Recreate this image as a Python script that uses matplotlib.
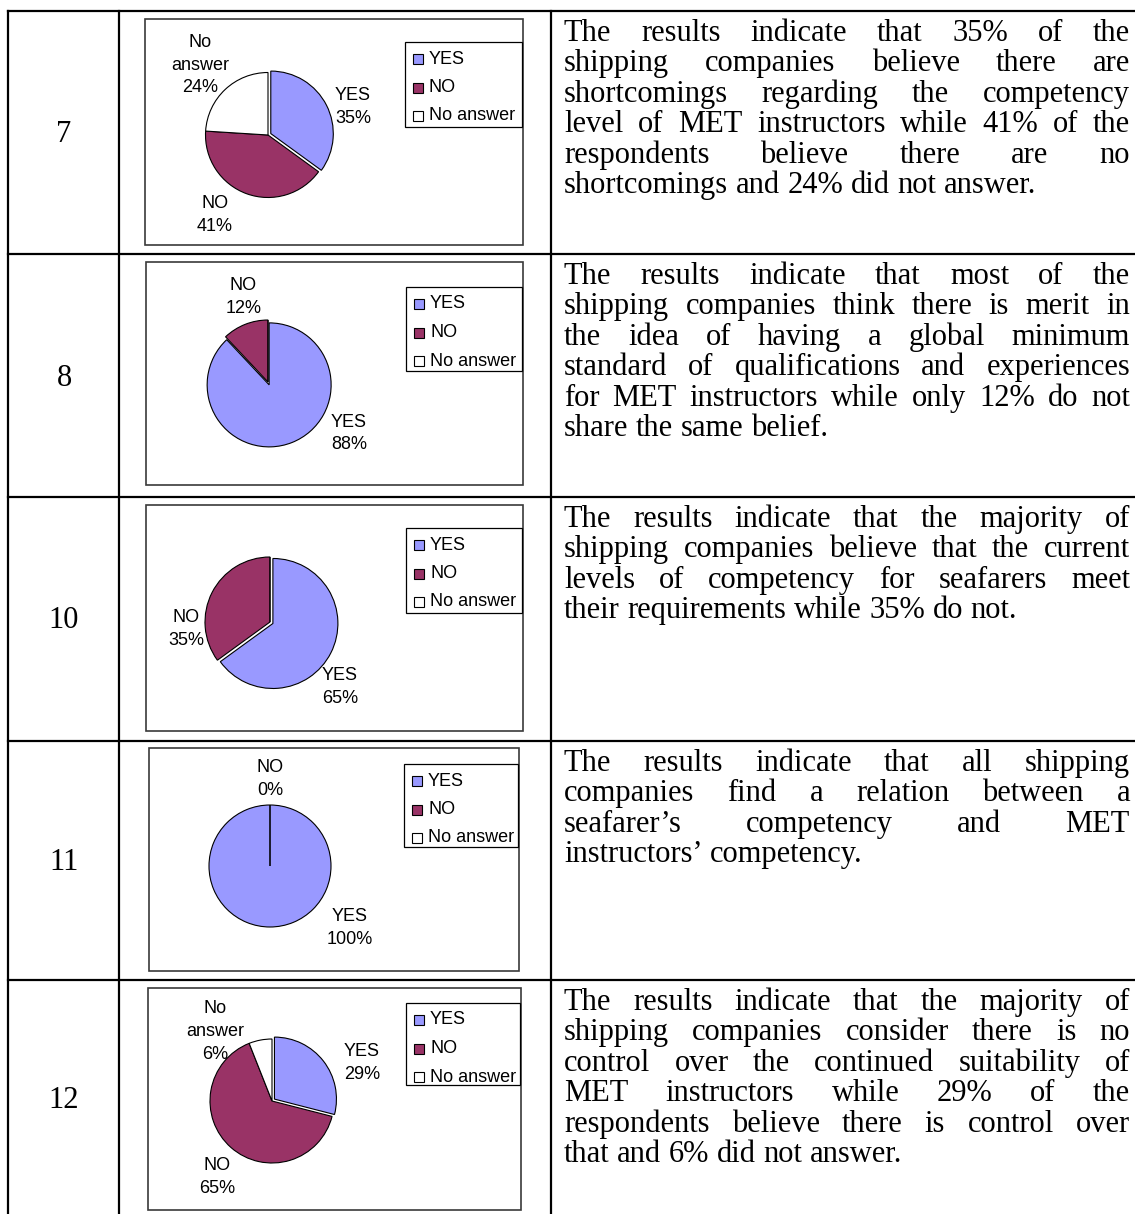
import matplotlib
matplotlib.use('Agg')
import matplotlib.pyplot as plt
from matplotlib.patches import Rectangle
import numpy as np

# ---------------- data ----------------
categories = ['YES', 'NO', 'No answer']
question_ids = ['7', '8', '10', '11', '12']
yes_pct = [35, 88, 65, 100, 29]
no_pct = [41, 12, 35, 0, 65]
noans_pct = [24, 0, 0, 0, 6]
# which slice labels appear on each chart (YES, NO, No answer)
label_shown = [[True, True, True],
               [True, True, False],
               [True, True, False],
               [True, True, False],
               [True, True, True]]

descriptions = [
    ["The results indicate that 35% of the",
     "shipping companies believe there are",
     "shortcomings regarding the competency",
     "level of MET instructors while 41% of the",
     "respondents believe there are no",
     "shortcomings and 24% did not answer."],
    ["The results indicate that most of the",
     "shipping companies think there is merit in",
     "the idea of having a global minimum",
     "standard of qualifications and experiences",
     "for MET instructors while only 12% do not",
     "share the same belief."],
    ["The results indicate that the majority of",
     "shipping companies believe that the current",
     "levels of competency for seafarers meet",
     "their requirements while 35% do not."],
    ["The results indicate that all shipping",
     "companies find a relation between a",
     "seafarer\u2019s competency and MET",
     "instructors\u2019 competency."],
    ["The results indicate that the majority of",
     "shipping companies consider there is no",
     "control over the continued suitability of",
     "MET instructors while 29% of the",
     "respondents believe there is control over",
     "that and 6% did not answer."],
]

# ---------------- style / layout ----------------
W, H, DPI = 1135, 1214, 100
slice_colors = ['#9999FF', '#993366', '#FFFFFF']
row_lines_y = [11, 254, 497, 741, 980]
col_lines_x = [8, 119, 551]
number_y = [135, 378, 620, 862, 1100]
frames = [(145, 19, 523, 245), (146, 262, 523, 485), (146, 505, 523, 731),
          (149, 748, 519, 971), (148, 988, 521, 1210)]
pie_geo = [(268, 135, 62.5), (268, 382, 62), (270, 622, 65),
           (270, 866, 61), (272, 1101, 62)]
legend_boxes = [(405, 42, 522, 127), (406, 287, 522, 371), (406, 528, 522, 613),
                (404, 764, 518, 847), (406, 1003, 520, 1085)]
# label placement: (angle clockwise from top in degrees, distance in radii)
label_place = [
    [(71.7, 1.43), (213.6, 1.54), (315.8, 1.56)],
    [(122.4, 1.55), (343.8, 1.43), None],
    [(132.8, 1.47), (265.5, 1.29), None],
    [(128, 1.66), (0, 1.42), None],
    [(67.2, 1.57), (216, 1.51), (320.6, 1.45)],
]
para_first_baseline = [y + 30 for y in row_lines_y]
para_spacing = 30.4
text_x0, text_x1 = 564, 1130
serif = ['Liberation Serif', 'DejaVu Serif']
sans = ['Liberation Sans', 'DejaVu Sans']
body_size = 22
label_size = 13

fig = plt.figure(figsize=(W / DPI, H / DPI), dpi=DPI)
bg = fig.add_axes([0, 0, 1, 1])
bg.set_xlim(0, W)
bg.set_ylim(H, 0)
bg.axis('off')

# table grid
lw_grid = 1.6
for y in row_lines_y:
    bg.plot([col_lines_x[0], W + 5], [y, y], color='black', lw=lw_grid,
            solid_capstyle='projecting')
for x in col_lines_x:
    bg.plot([x, x], [row_lines_y[0], H + 5], color='black', lw=lw_grid,
            solid_capstyle='projecting')

# question numbers
for q, y in zip(question_ids, number_y):
    bg.text(64, y, q, ha='center', va='center', fontsize=body_size,
            family=serif)

# justified paragraphs
renderer = fig.canvas.get_renderer()


def text_width(s):
    t = bg.text(0, 0, s, fontsize=body_size, family=serif)
    w = t.get_window_extent(renderer=renderer).width
    t.remove()
    return w


space_w = text_width('a a') - text_width('aa')
for lines, yb in zip(descriptions, para_first_baseline):
    for i, line in enumerate(lines):
        y = yb + i * para_spacing
        words = line.split(' ')
        widths = [text_width(wd) for wd in words]
        last = (i == len(lines) - 1)
        if last or len(words) == 1:
            gap = space_w
        else:
            gap = (text_x1 - text_x0 - sum(widths)) / (len(words) - 1)
        x = text_x0
        for wd, ww in zip(words, widths):
            bg.text(x, y, wd, ha='left', va='baseline', fontsize=body_size,
                    family=serif)
            x += ww + gap

# charts
for k in range(5):
    fx0, fy0, fx1, fy1 = frames[k]
    bg.add_patch(Rectangle((fx0, fy0), fx1 - fx0, fy1 - fy0, fill=False,
                           edgecolor='#3a3a3a', lw=1.2, zorder=2))
    cx, cy, r = pie_geo[k]
    ax = fig.add_axes([fx0 / W, 1 - fy1 / H, (fx1 - fx0) / W, (fy1 - fy0) / H])
    vals = [yes_pct[k], no_pct[k], noans_pct[k]]
    explode = [0.05 if yes_pct[k] < 100 else 0, 0, 0]
    ax.pie(vals, colors=slice_colors, startangle=90, counterclock=False,
           explode=explode, radius=1, center=(0, 0),
           wedgeprops=dict(edgecolor='black', linewidth=0.8))
    ax.set_aspect('auto')
    ax.set_xlim((fx0 - cx) / r, (fx1 - cx) / r)
    ax.set_ylim((cy - fy1) / r, (cy - fy0) / r)
    ax.axis('off')
    for j, cat in enumerate(categories):
        if not label_shown[k][j]:
            continue
        ang, dist = label_place[k][j]
        a = np.deg2rad(ang)
        name = cat if cat != 'No answer' else 'No\nanswer'
        ax.text(dist * np.sin(a), dist * np.cos(a), f"{name}\n{vals[j]}%",
                ha='center', va='center', fontsize=label_size, family=sans,
                linespacing=1.45)
    # legend
    lx0, ly0, lx1, ly1 = legend_boxes[k]
    bg.add_patch(Rectangle((lx0, ly0), lx1 - lx0, ly1 - ly0, fill=True,
                           facecolor='white', edgecolor='black', lw=0.9,
                           zorder=3))
    for j, cat in enumerate(categories):
        ey = ly0 + 17 + j * 28.5
        bg.add_patch(Rectangle((lx0 + 8, ey - 5), 10, 10,
                               facecolor=slice_colors[j], edgecolor='black',
                               lw=0.8, zorder=4))
        bg.text(lx0 + 24, ey, cat, ha='left', va='center',
                fontsize=label_size, family=sans, zorder=4)

fig.savefig('out.png', dpi=DPI)
